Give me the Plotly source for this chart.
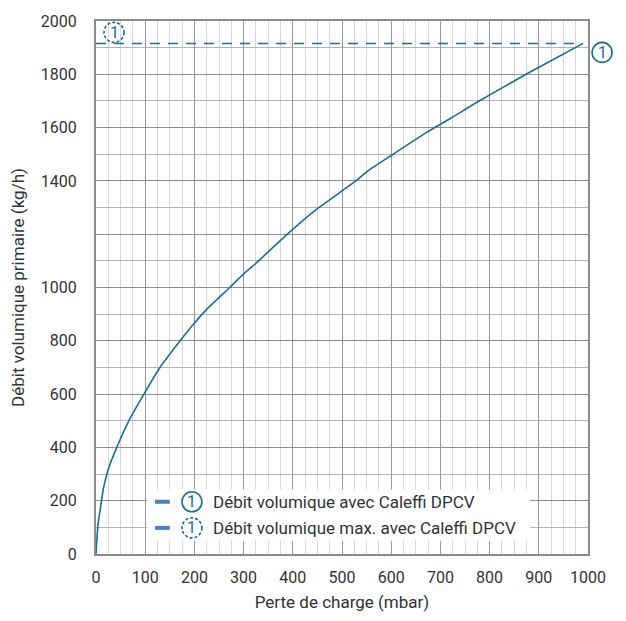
import plotly.graph_objects as go

# Data
pressure_mbar = [0, 1, 4, 8, 15, 25, 42, 66, 100, 130, 171, 198, 225, 272, 299,
                 327, 374, 401, 448, 526, 550, 603, 672, 720, 777, 876, 990]
flow_kgh = [0, 31, 110, 160, 245, 318, 399, 497, 608, 700, 800, 862, 918, 1000, 1049,
            1094, 1175, 1220, 1293, 1397, 1434, 1499, 1582, 1634, 1698, 1802, 1916]
max_flow_x = [0, 990]
max_flow_y = [1916, 1916]

x_range = [0, 1000]
y_range = [0, 2000]
x_ticks = [0, 100, 200, 300, 400, 500, 600, 700, 800, 900, 1000]
y_ticks = [0, 200, 400, 600, 800, 1000, 1200, 1400, 1600, 1800, 2000]
y_ticktext = ["0", "200", "400", "600", "800", "1000", "", "1400", "1600", "1800", "2000"]

legend_labels = ["Débit volumique avec Caleffi DPCV", "Débit volumique max. avec Caleffi DPCV"]
marker_label = "1"

FONT = "Roboto"
TXT = "#333333"
CURVE = "#1b6e94"
LEG_LINE = "#4a7fc0"

fig = go.Figure()
fig.add_trace(go.Scatter(x=max_flow_x, y=max_flow_y, mode="lines",
                         line=dict(color=CURVE, width=1.5, dash="10px,8px"),
                         hoverinfo="skip", showlegend=False))
fig.add_trace(go.Scatter(x=pressure_mbar, y=flow_kgh, mode="lines",
                         line=dict(color=CURVE, width=1.6, shape="spline", smoothing=0.5),
                         showlegend=False))

shapes = []
annotations = []


def to_px(v, rng):
    return (v - rng[0]) / (rng[1] - rng[0])


def circled(xa, ya, dx, dy, dash):
    r = 10
    shapes.append(dict(type="circle", xref="paper", yref="paper",
                       xsizemode="pixel", ysizemode="pixel",
                       xanchor=xa, yanchor=ya,
                       x0=dx - r, x1=dx + r, y0=dy - r, y1=dy + r,
                       line=dict(color=CURVE, width=1.6, dash=dash),
                       fillcolor="rgba(255,255,255,0)", layer="above"))
    annotations.append(dict(x=xa, y=ya, xref="paper", yref="paper", text=marker_label,
                            showarrow=False, xshift=dx, yshift=dy,
                            xanchor="center", yanchor="middle",
                            font=dict(family=FONT, size=16, color=CURVE)))


# end-of-curve marker (solid) and max marker (dashed)
circled(to_px(pressure_mbar[-1], x_range), to_px(flow_kgh[-1], y_range), 19, -9, "solid")
circled(to_px(max_flow_x[0], x_range), to_px(max_flow_y[0], y_range), 18, 11, "3px,2px")

# custom legend
shapes.append(dict(type="rect", xref="paper", yref="paper", x0=0.104, x1=0.882,
                   y0=0.025, y1=0.121, fillcolor="white", line=dict(width=0), layer="above"))
rows = [0.098, 0.049]
for i, (lab, yy) in enumerate(zip(legend_labels, rows)):
    shapes.append(dict(type="line", xref="paper", yref="paper", x0=0.120, x1=0.150,
                       y0=yy, y1=yy, line=dict(color=LEG_LINE, width=4), layer="above"))
    circled(0.195, yy, 0, 0, "solid" if i == 0 else "3px,2px")
    annotations.append(dict(x=0.234, y=yy, xref="paper", yref="paper", text=lab,
                            showarrow=False, xanchor="left", yanchor="middle",
                            font=dict(family=FONT, size=17, color=TXT)))

fig.update_layout(
    width=626, height=621,
    margin=dict(l=96, r=38, t=14, b=62),
    paper_bgcolor="white", plot_bgcolor="white",
    font=dict(family=FONT, size=16, color=TXT),
    shapes=shapes, annotations=annotations,
    showlegend=False,
)
fig.update_xaxes(
    range=x_range, tickvals=x_ticks, showgrid=True, gridcolor="#9a9a9a", gridwidth=1,
    minor=dict(dtick=25, showgrid=True, gridcolor="#d6d6d6", gridwidth=1, tick0=0),
    showline=True, linecolor="#8a8a8a", linewidth=2, mirror=True, zeroline=False,
    ticks="", ticklabelstandoff=8,
    title=dict(text="Perte de charge (mbar)", font=dict(size=17, color=TXT), standoff=10),
)
fig.update_yaxes(
    range=y_range, tickvals=y_ticks, ticktext=y_ticktext, showgrid=True,
    gridcolor="#8f8f8f", gridwidth=1,
    minor=dict(dtick=100, showgrid=True, gridcolor="#b4b4b4", gridwidth=1, tick0=0),
    showline=True, linecolor="#8a8a8a", linewidth=2, mirror=True, zeroline=False,
    ticks="", ticklabelstandoff=14,
    title=dict(text="Débit volumique primaire (kg/h)", font=dict(size=17, color=TXT), standoff=12),
)

fig.write_html("out.html")
